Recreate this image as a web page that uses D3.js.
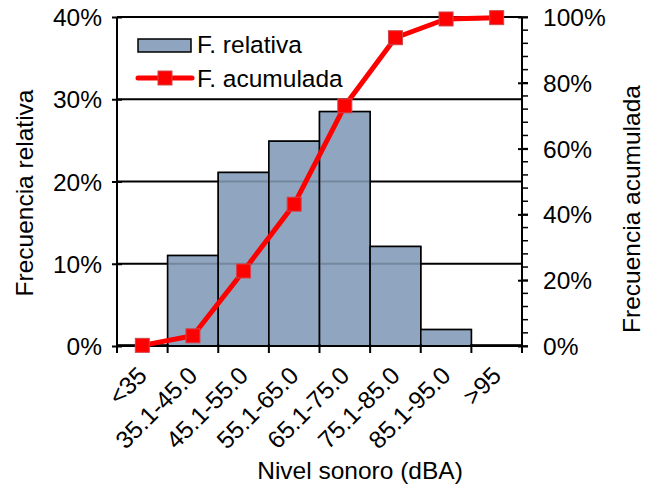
<!DOCTYPE html>
<html>
<head>
<meta charset="utf-8">
<script src="https://cdn.jsdelivr.net/npm/d3@7"></script>
<style>
  body { margin: 0; background: #fff; }
  text { font-family: "Liberation Sans", Arial, sans-serif; fill: #000; }
</style>
</head>
<body>
<div id="chart"></div>
<script>
var w = 654;
var h = 489;
var fs = "24.5px";

// data
var categories = ["<35", "35.1-45.0", "45.1-55.0", "55.1-65.0", "65.1-75.0", "75.1-85.0", "85.1-95.0", ">95"];
var relativa = [0.001, 0.110, 0.211, 0.249, 0.285, 0.121, 0.020, 0.001];
var acumulada = [0.002, 0.031, 0.228, 0.431, 0.730, 0.937, 0.994, 0.998];
var leftTicks = [0, 0.1, 0.2, 0.3, 0.4];
var rightTicks = [0, 0.2, 0.4, 0.6, 0.8, 1.0];

var pLeft = 117, pRight = 522, pTop = 17, pBottom = 346;

var svg = d3.select("#chart").append("svg")
  .attr("width", w)
  .attr("height", h);

//xScale
var xScale = d3.scaleBand()
  .domain(categories)
  .range([pLeft, pRight])
  .padding(0);
//yScales
var yScale = d3.scaleLinear().domain([0, 0.4]).range([pBottom, pTop]);
var y2Scale = d3.scaleLinear().domain([0, 1]).range([pBottom, pTop]);

// bars
svg.selectAll("rect.bar")
  .data(relativa)
  .enter()
  .append("rect")
  .attr("class", "bar")
  .attr("x", (d, i) => xScale(categories[i]))
  .attr("y", d => yScale(d))
  .attr("width", xScale.bandwidth())
  .attr("height", d => pBottom - yScale(d))
  .style("fill", "#8fa5bf")
  .style("stroke", "#000")
  .style("stroke-width", 1.5);

// gridlines (show through the bars, darker there)
svg.selectAll("line.grid")
  .data(leftTicks.slice(1))
  .enter()
  .append("line")
  .attr("x1", pLeft)
  .attr("x2", pRight)
  .attr("y1", d => yScale(d))
  .attr("y2", d => yScale(d))
  .style("stroke", "#000")
  .style("stroke-width", 2);

svg.selectAll("rect.barTop")
  .data(relativa)
  .enter()
  .append("rect")
  .attr("x", (d, i) => xScale(categories[i]))
  .attr("y", d => yScale(d))
  .attr("width", xScale.bandwidth())
  .attr("height", d => pBottom - yScale(d))
  .style("fill", "#8fa5bf")
  .style("fill-opacity", 0.82)
  .style("stroke", "#000")
  .style("stroke-width", 1.5);

// left axis
var yAxis = d3.axisLeft(yScale)
  .tickValues(leftTicks)
  .tickFormat(d3.format(".0%"))
  .tickSize(5)
  .tickPadding(10);
var gy = svg.append("g")
  .attr("transform", "translate(" + pLeft + ",0)")
  .call(yAxis);
gy.select(".domain").remove();
gy.selectAll(".tick line").attr("x1", 5).attr("x2", -5).style("stroke-width", 2);
gy.selectAll("text").style("font-size", fs).attr("dy", "0.35em");
svg.append("line")
  .attr("x1", pLeft).attr("x2", pLeft).attr("y1", pTop).attr("y2", pBottom)
  .style("stroke", "#000").style("stroke-width", 2);

// right axis
var y2Axis = d3.axisRight(y2Scale)
  .tickValues(rightTicks)
  .tickFormat(d3.format(".0%"))
  .tickSize(6)
  .tickPadding(15);
var gy2 = svg.append("g")
  .attr("transform", "translate(" + pRight + ",0)")
  .call(y2Axis);
gy2.select(".domain").remove();
gy2.selectAll(".tick line").attr("x1", -4).style("stroke-width", 2);
gy2.selectAll("text").style("font-size", fs).attr("dy", "0.35em");
// minor ticks
svg.selectAll("line.minor")
  .data(d3.range(0, 26).map(i => i * 0.04))
  .enter()
  .append("line")
  .attr("x1", pRight)
  .attr("x2", pRight + 6)
  .attr("y1", d => y2Scale(d))
  .attr("y2", d => y2Scale(d))
  .style("stroke", "#000")
  .style("stroke-width", 1.5);
svg.append("line")
  .attr("x1", pRight).attr("x2", pRight).attr("y1", pTop).attr("y2", pBottom)
  .style("stroke", "#000").style("stroke-width", 2);

// bottom axis
var xAxis = d3.axisBottom(xScale).tickSize(0);
var gx = svg.append("g")
  .attr("transform", "translate(0," + pBottom + ")")
  .call(xAxis);
gx.select(".domain").remove();
gx.selectAll("text")
  .style("font-size", fs)
  .style("text-anchor", "end")
  .attr("y", 0)
  .attr("dy", 0)
  .attr("transform", "translate(6,31) rotate(-45)");
svg.append("line")
  .attr("x1", pLeft - 1).attr("x2", pRight + 1).attr("y1", pBottom).attr("y2", pBottom)
  .style("stroke", "#000").style("stroke-width", 2);
svg.selectAll("line.xtick")
  .data(d3.range(categories.length + 1))
  .enter()
  .append("line")
  .attr("x1", i => pLeft + i * xScale.step())
  .attr("x2", i => pLeft + i * xScale.step())
  .attr("y1", pBottom - 2)
  .attr("y2", pBottom + 7)
  .style("stroke", "#000")
  .style("stroke-width", 2);

// cumulative line
var line = d3.line()
  .x((d, i) => xScale(categories[i]) + xScale.bandwidth() / 2)
  .y(d => y2Scale(d));
svg.append("path")
  .datum(acumulada)
  .attr("d", line)
  .style("fill", "none")
  .style("stroke", "#ff0000")
  .style("stroke-width", 5)
  .style("stroke-linejoin", "round");
svg.selectAll("rect.marker")
  .data(acumulada)
  .enter()
  .append("rect")
  .attr("x", (d, i) => xScale(categories[i]) + xScale.bandwidth() / 2 - 7)
  .attr("y", d => y2Scale(d) - 7)
  .attr("width", 14)
  .attr("height", 14)
  .style("fill", "#ff0000")
  .style("stroke", "#d0454a")
  .style("stroke-width", 1);

// axis titles
svg.append("text")
  .attr("transform", "translate(33,193) rotate(-90)")
  .attr("text-anchor", "middle")
  .style("font-size", fs)
  .text("Frecuencia relativa");
svg.append("text")
  .attr("transform", "translate(640,209) rotate(-90)")
  .attr("text-anchor", "middle")
  .style("font-size", fs)
  .text("Frecuencia acumulada");
svg.append("text")
  .attr("x", 360)
  .attr("y", 479)
  .attr("text-anchor", "middle")
  .style("font-size", fs)
  .text("Nivel sonoro (dBA)");

// legend
svg.append("rect")
  .attr("x", 138).attr("y", 39).attr("width", 53).attr("height", 13)
  .style("fill", "#8fa5bf").style("stroke", "#000").style("stroke-width", 1.5);
svg.append("text")
  .attr("x", 197).attr("y", 53)
  .style("font-size", fs)
  .text("F. relativa");
svg.append("line")
  .attr("x1", 138).attr("x2", 192).attr("y1", 78).attr("y2", 78)
  .style("stroke", "#ff0000").style("stroke-width", 5).style("stroke-linecap", "round");
svg.append("rect")
  .attr("x", 158).attr("y", 71).attr("width", 14).attr("height", 14)
  .style("fill", "#ff0000").style("stroke", "#d0454a").style("stroke-width", 1);
svg.append("text")
  .attr("x", 197).attr("y", 87)
  .style("font-size", fs)
  .text("F. acumulada");
</script>
</body>
</html>
